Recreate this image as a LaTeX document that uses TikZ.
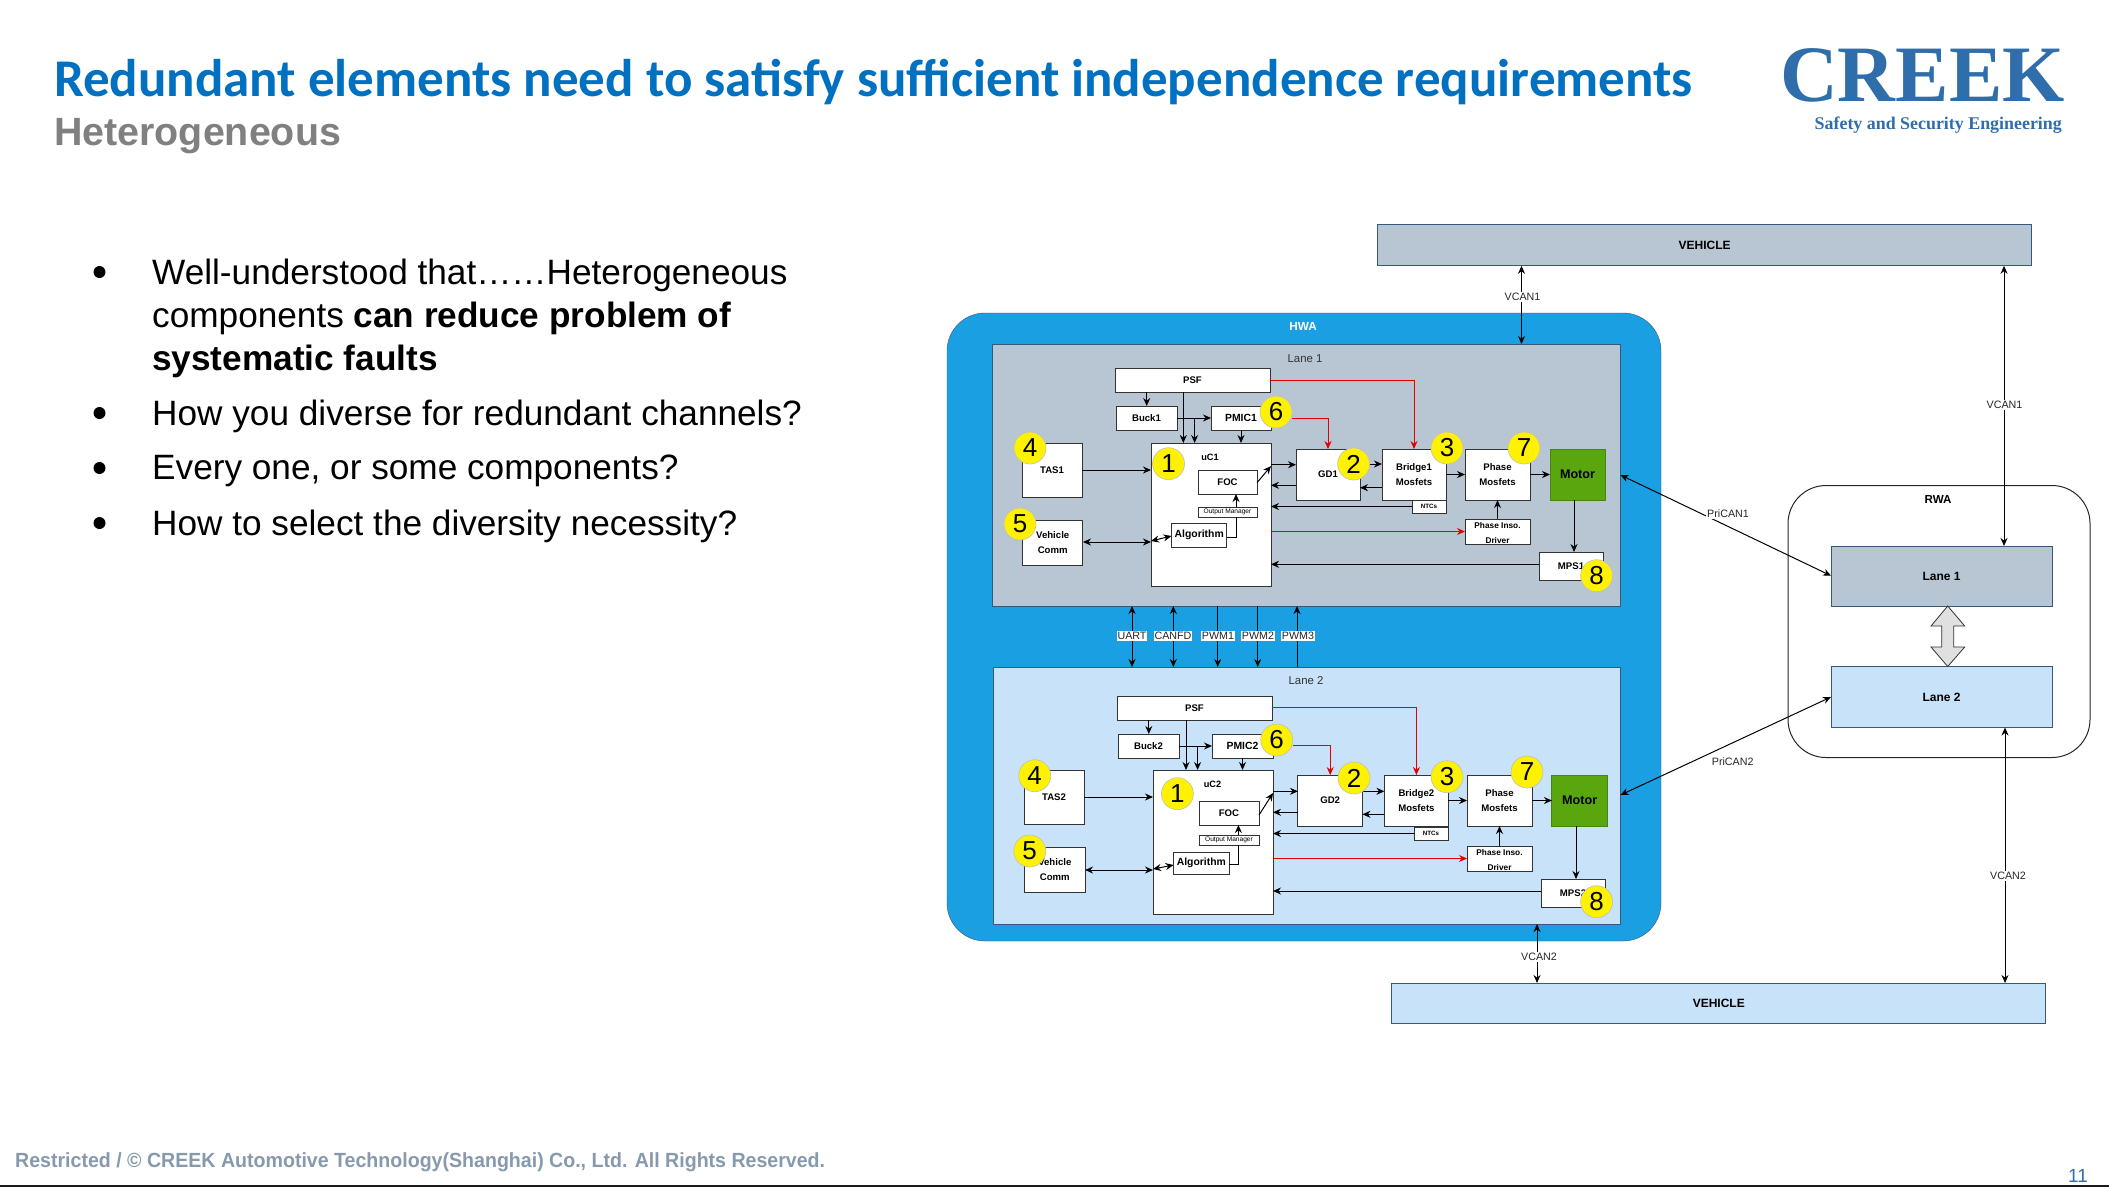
\documentclass[tikz,border=0pt]{standalone}
\usepackage{fontspec}
\setmainfont{Liberation Sans}
\newfontfamily\titlefont{Carlito}
\newfontfamily\logofont{Liberation Serif}
\newfontfamily\footfont[FakeStretch=0.955]{Liberation Sans}
\usepackage{xcolor}
\usetikzlibrary{arrows.meta,positioning,calc}
\definecolor{creekblue}{HTML}{0070C0}
\definecolor{logoblue}{HTML}{2F6EAB}
\definecolor{hwablue}{HTML}{1A9FE3}
\definecolor{lanegray}{HTML}{B8C6D3}
\definecolor{lanelight}{HTML}{C8E2FA}
\definecolor{motorgreen}{HTML}{5AA60F}
\definecolor{edgeblue}{HTML}{35597A}
\definecolor{footgray}{HTML}{8799AC}
\newcommand{\fsize}[1]{\fontsize{#1}{15}\selectfont}
\newcommand{\insotext}{\raisebox{-6pt}{\smash{\begin{tabular}{@{}c@{}}Phase Inso.\\Driver\end{tabular}}}}
\tikzset{
	arr/.style={draw=black, line width=1pt, -{Stealth[length=8pt,width=7pt]}},
	biarr/.style={draw=black, line width=1pt, {Stealth[length=8pt,width=7pt]}-{Stealth[length=8pt,width=7pt]}},
	redarr/.style={draw=red!90!black, line width=1pt, -{Stealth[length=8pt,width=7pt]}},
	plainline/.style={draw=black, line width=1pt},
	blockbox/.style={draw=black!80, line width=1pt, fill=white, outer sep=0pt, inner sep=0pt, align=center, font=\bfseries\fsize{9.6}},
	lanebox/.style={draw=edgeblue, line width=1pt, outer sep=0pt},
	numdot/.style={circle, fill=yellow, draw=black!25, line width=.6pt, minimum size=32pt, inner sep=0pt, font=\fsize{26}},
	canlabel/.style={fill=white, inner sep=1pt, font=\fsize{10.7}, text=black!85},
	thinlabel/.style={inner sep=0pt, font=\fsize{11.4}, text=black!80},
	bulletdot/.style={circle, fill=black, minimum size=12pt, inner sep=0pt},
	bullettext/.style={inner sep=0pt, anchor=west, align=left, font=\fontsize{35.2}{43}\selectfont}
}
\begin{document}
\begin{tikzpicture}[x=1pt,y=-1pt]
	\useasboundingbox (0,0) rectangle (2109,1187);
	\fill[white] (0,0) rectangle (2109,1187);

	\node[inner sep=0pt, anchor=base west, text=creekblue, font=\titlefont\bfseries\fontsize{53}{58}\selectfont] (titleA) at (54,96) {Redundant elements need to satisfy sufficient independence requirements};
	\node[inner sep=0pt, anchor=base west, text=black!50, font=\bfseries\fontsize{39.4}{44}\selectfont] (titleB) at (54,145) {Heterogeneous};
	\node[inner sep=0pt, anchor=base west, text=logoblue, font=\logofont\bfseries\fontsize{80}{80}\selectfont] (logoA) at (1780,101) {CREEK};
	\node[inner sep=0pt, anchor=base east, text=logoblue, font=\logofont\bfseries\fontsize{17.9}{20}\selectfont] (logoB) at (2062,129) {Safety and Security Engineering};

	\node[bulletdot] (dotA) at (99.5,272) {};
	\node[bulletdot] (dotB) at (99.5,413) {};
	\node[bulletdot] (dotC) at (99.5,468) {};
	\node[bulletdot] (dotD) at (99.5,523) {};
	\node[bullettext] (textA) at (152,318) {Well-understood that……Heterogeneous\\components \textbf{can reduce problem of}\\\textbf{systematic faults}};
	\node[bullettext] (textB) at (152,416) {How you diverse for redundant channels?};
	\node[bullettext] (textC) at (152,471) {Every one, or some components?};
	\node[bullettext] (textD) at (152,526) {How to select the diversity necessity?};

	\node[inner sep=0pt, anchor=base west, text=footgray, font=\footfont\bfseries\fontsize{20.5}{24}\selectfont] (footA) at (15,1167) {Restricted / © CREEK Automotive Technology(Shanghai) Co., Ltd. All Rights Reserved.};
	\node[inner sep=0pt, anchor=base east, text=logoblue, font=\fontsize{19}{21}\selectfont] (pageA) at (2088,1182.5) {11};
	\draw[black!90, line width=2pt] (0,1186) -- (2109,1186);

	% outer boxes
	\node[lanebox, fill=lanegray, minimum width=654pt, minimum height=41pt, font=\bfseries\fsize{12}] (vehicleA) at (1704.7,245.3) {VEHICLE};
	\node[lanebox, fill=lanelight, minimum width=654pt, minimum height=40pt, font=\bfseries\fsize{12}] (vehicleB) at (1718.8,1003) {VEHICLE};
	\node[draw=edgeblue, fill=hwablue, rounded corners=38pt, minimum width=714pt, minimum height=628pt, outer sep=0pt] (hwa) at (1304,627) {};
	\node[inner sep=0pt, text=white, font=\bfseries\fsize{11.8}] (hwaname) at (1303,326.5) {HWA};
	\node[draw=black!85, line width=1pt, fill=white, rounded corners=38pt, minimum width=302pt, minimum height=272pt, outer sep=0pt] (rwa) at (1939,621.5) {};
	\node[inner sep=0pt, font=\bfseries\fsize{11.6}] (rwaname) at (1938,499.5) {RWA};
	\node[lanebox, fill=lanegray, minimum width=221pt, minimum height=60pt, font=\bfseries\fsize{12}] (rwaA) at (1941.5,576) {Lane 1};
	\node[lanebox, fill=lanelight, minimum width=221pt, minimum height=61pt, font=\bfseries\fsize{12}] (rwaB) at (1941.5,697) {Lane 2};
	\draw[draw=black!80, fill=black!12, line width=.8pt] (rwaA.south -| 1947.7,0) -- (1964.7,626) -- (1953.7,626) -- (1953.7,647) -- (1964.7,647) -- (rwaB.north -| 1947.7,0) -- (1931,647) -- (1941.7,647) -- (1941.7,626) -- (1931,626) -- cycle;

	\node[lanebox, fill=lanegray, minimum width=628pt, minimum height=262pt] (laneA) at (1306.5,475) {};
	\node[lanebox, fill=lanelight, minimum width=627pt, minimum height=257pt] (laneB) at (1307,795.5) {};
	\node[thinlabel] (laneAname) at (1305,359) {Lane 1};
	\node[thinlabel] (laneBname) at (1306,681) {Lane 2};

	% lane 1
	\node[blockbox, minimum width=155pt, minimum height=24pt] (psfA) at (1192.5,380) {PSF};
	\node[blockbox, minimum width=61pt, minimum height=24pt] (buckA) at (1146.5,418) {Buck1};
	\node[blockbox, minimum width=60pt, minimum height=24pt, font=\bfseries\fsize{10.4}] (pmicA) at (1241,418) {PMIC1};
	\node[blockbox, minimum width=120pt, minimum height=143pt] (ucA) at (1211,514.5) {};
	\node[inner sep=0pt, font=\bfseries\fsize{9.2}] (ucAname) at (1210,457.5) {uC1};
	\node[blockbox, minimum width=60pt, minimum height=54pt] (tasA) at (1052,470) {TAS1};
	\node[blockbox, minimum width=60.5pt, minimum height=45pt] (commA) at (1052.7,542.5) {Vehicle\\Comm};
	\node[blockbox, minimum width=59pt, minimum height=24pt] (focA) at (1227.5,482) {FOC};
	\node[blockbox, minimum width=59pt, minimum height=10pt, font=\fsize{6.6}] (omA) at (1227.5,512) {Output Manager};
	\node[blockbox, minimum width=55.5pt, minimum height=24pt, font=\bfseries\fsize{10.4}] (algoA) at (1199.2,535) {Algorithm};
	\node[blockbox, minimum width=64pt, minimum height=51pt] (gdA) at (1328,474.5) {GD1};
	\node[blockbox, minimum width=64pt, minimum height=51pt] (bridgeA) at (1414,474.5) {Bridge1\\Mosfets};
	\node[blockbox, minimum width=34pt, minimum height=13pt, font=\bfseries\fsize{6.2}] (ntcA) at (1429,506.5) {NTCs};
	\node[blockbox, minimum width=65pt, minimum height=51pt] (phaseA) at (1497.5,474.5) {Phase\\Mosfets};
	\node[blockbox, minimum width=65pt, minimum height=25pt, font=\bfseries\fsize{8.3}] (insoA) at (1497.5,531.5) {\insotext};
	\node[blockbox, fill=motorgreen, draw=motorgreen!80!black, minimum width=55pt, minimum height=51pt, font=\bfseries\fsize{12.6}] (motorA) at (1577.5,474.5) {Motor};
	\node[blockbox, minimum width=64pt, minimum height=28pt] (mpsA) at (1571,566) {MPS1};

	\draw[arr] (psfA.south -| 1146.7,0) -- (buckA.north -| 1146.7,0);
	\draw[arr] (psfA.south -| 1183.3,0) -- (ucA.north -| 1183.3,0);
	\draw[arr] (buckA) -- (pmicA);
	\draw[arr] (1194.6,418) -- (ucA.north -| 1194.6,0);
	\draw[arr] (pmicA) -- (ucA.north -| pmicA);
	\draw[redarr] (psfA.east |- 0,380.6) -| (bridgeA.north);
	\draw[arr] (tasA) -- (ucA.west |- tasA);
	\draw[biarr] (commA.east |- 0,542) -- (ucA.west |- 0,542);
	\draw[biarr] (ucA.west |- 0,541) -- (algoA.west |- 0,536);
	\draw[plainline] (algoA.east |- 0,537) -| (omA.south -| 1236,0);
	\draw[arr] (omA.north -| 1236,0) -- (focA.south -| 1236,0);
	\draw[arr] (focA.east |- 0,482.7) -- (ucA.east |- 0,466);
	\draw[arr] (ucA.east |- 0,464.7) -- (gdA.west |- 0,464.7);
	\draw[arr] (gdA.west |- 0,485.3) -- (ucA.east |- 0,485.3);
	\draw[arr] (gdA.east |- 0,464) -- (bridgeA.west |- 0,464);
	\draw[arr] (bridgeA.west |- 0,487.7) -- (gdA.east |- 0,487.7);
	\draw[arr] (bridgeA) -- (phaseA);
	\draw[arr] (phaseA) -- (motorA);
	\draw[arr] (ntcA) -- (ucA.east |- ntcA);
	\draw[arr] (insoA) -- (phaseA);
	\draw[redarr] (ucA.east |- insoA) -- (insoA);
	\draw[arr] (motorA.south -| 1574,0) -- (mpsA.north -| 1574,0);
	\draw[arr] (mpsA.west |- 0,564.3) -- (ucA.east |- 0,564.3);

	% lane 2
	\node[blockbox, minimum width=155pt, minimum height=24pt] (psfB) at (1194.5,708) {PSF};
	\node[blockbox, minimum width=61pt, minimum height=24pt] (buckB) at (1148.5,746) {Buck2};
	\node[blockbox, minimum width=61pt, minimum height=24pt, font=\bfseries\fsize{10.4}] (pmicB) at (1242.5,746) {PMIC2};
	\node[blockbox, minimum width=120pt, minimum height=144pt] (ucB) at (1213,842) {};
	\node[inner sep=0pt, font=\bfseries\fsize{9.2}] (ucBname) at (1212.5,784.5) {uC2};
	\node[blockbox, minimum width=60pt, minimum height=54pt] (tasB) at (1054,797) {TAS2};
	\node[blockbox, minimum width=60.5pt, minimum height=45pt] (commB) at (1054.8,869.5) {Vehicle\\Comm};
	\node[blockbox, minimum width=60pt, minimum height=24pt] (focB) at (1229,813) {FOC};
	\node[blockbox, minimum width=60pt, minimum height=10pt, font=\fsize{6.6}] (omB) at (1229,840) {Output Manager};
	\node[blockbox, minimum width=55.5pt, minimum height=22pt, font=\bfseries\fsize{10.4}] (algoB) at (1201.3,863) {Algorithm};
	\node[blockbox, minimum width=64.5pt, minimum height=51pt] (gdB) at (1330.2,800.5) {GD2};
	\node[blockbox, minimum width=64pt, minimum height=51pt] (bridgeB) at (1416.4,800.5) {Bridge2\\Mosfets};
	\node[blockbox, minimum width=34pt, minimum height=13pt, font=\bfseries\fsize{6.2}] (ntcB) at (1431,833.5) {NTCs};
	\node[blockbox, minimum width=65pt, minimum height=51pt] (phaseB) at (1499.5,800.5) {Phase\\Mosfets};
	\node[blockbox, minimum width=65pt, minimum height=25pt, font=\bfseries\fsize{8.3}] (insoB) at (1499.5,858.5) {\insotext};
	\node[blockbox, fill=motorgreen, draw=motorgreen!80!black, minimum width=55.5pt, minimum height=51pt, font=\bfseries\fsize{12.6}] (motorB) at (1579.7,800.5) {Motor};
	\node[blockbox, minimum width=64pt, minimum height=28pt] (mpsB) at (1573,893) {MPS2};

	\draw[arr] (psfB.south -| 1148.8,0) -- (buckB.north -| 1148.8,0);
	\draw[arr] (psfB.south -| 1186,0) -- (ucB.north -| 1186,0);
	\draw[arr] (buckB) -- (pmicB);
	\draw[arr] (1197.6,746) -- (ucB.north -| 1197.6,0);
	\draw[arr] (pmicB) -- (ucB.north -| pmicB);
	\draw[redarr] (psfB.east |- 0,707.7) -| (bridgeB.north);
	\draw[arr] (tasB) -- (ucB.west |- tasB);
	\draw[biarr] (commB.east |- 0,870) -- (ucB.west |- 0,870);
	\draw[biarr] (ucB.west |- 0,869) -- (algoB.west |- 0,865);
	\draw[plainline] (algoB.east |- 0,864) -| (omB.south -| 1238.4,0);
	\draw[arr] (omB.north -| 1238.4,0) -- (focB.south -| 1238.4,0);
	\draw[arr] (focB.east |- 0,815) -- (ucB.east |- 0,793);
	\draw[arr] (ucB.east |- 0,791.3) -- (gdB.west |- 0,791.3);
	\draw[arr] (gdB.west |- 0,812.3) -- (ucB.east |- 0,812.3);
	\draw[arr] (gdB.east |- 0,791.3) -- (bridgeB.west |- 0,791.3);
	\draw[arr] (bridgeB.west |- 0,814.3) -- (gdB.east |- 0,814.3);
	\draw[arr] (bridgeB) -- (phaseB);
	\draw[arr] (phaseB) -- (motorB);
	\draw[arr] (ntcB) -- (ucB.east |- ntcB);
	\draw[arr] (insoB) -- (phaseB);
	\draw[redarr] (ucB.east |- insoB) -- (insoB);
	\draw[arr] (motorB.south -| 1576,0) -- (mpsB.north -| 1576,0);
	\draw[arr] (mpsB.west |- 0,891) -- (ucB.east |- 0,891);

	% lane links
	\draw[biarr] (laneA.south -| 1132,0) -- (laneB.north -| 1132,0);
	\draw[biarr] (laneA.south -| 1173.3,0) -- (laneB.north -| 1173.3,0);
	\draw[arr] (laneA.south -| 1217.7,0) -- (laneB.north -| 1217.7,0);
	\draw[arr] (laneA.south -| 1257.7,0) -- (laneB.north -| 1257.7,0);
	\draw[arr] (laneB.north -| 1297,0) -- (laneA.south -| 1297,0);
	\node[canlabel] (uart) at (1132,636) {UART};
	\node[canlabel] (canfd) at (1173,636) {CANFD};
	\node[canlabel] (pwmA) at (1218,636) {PWM1};
	\node[canlabel] (pwmB) at (1258,636) {PWM2};
	\node[canlabel] (pwmC) at (1298,636) {PWM3};

	% outer links
	\draw[biarr] (vehicleA.south -| 1521.5,0) -- (laneA.north -| 1521.5,0);
	\draw[biarr] (vehicleA.south -| 2004,0) -- (rwaA.north -| 2004,0);
	\draw[biarr] (laneA.east |- 0,475) -- (rwaA.west |- 0,575.7);
	\draw[biarr] (laneB.east |- 0,795) -- (rwaB.west |- 0,697);
	\draw[biarr] (rwaB.south -| 2005,0) -- (vehicleB.north -| 2005,0);
	\draw[biarr] (laneB.south -| 1537,0) -- (vehicleB.north -| 1537,0);
	\node[canlabel] (vcanA) at (1522.5,297) {VCAN1};
	\node[canlabel] (vcanB) at (2004.5,405) {VCAN1};
	\node[canlabel] (prican) at (1728,514) {PriCAN1};
	\node[inner sep=0pt, font=\fsize{10.7}, text=black!85] (pricanB) at (1732.7,761.7) {PriCAN2};
	\node[canlabel] (vcanC) at (2008,876) {VCAN2};
	\node[canlabel] (vcanD) at (1539,957) {VCAN2};

	% numbered dots
	\node[numdot] (oneA) at (1168.5,463.7) {1};
	\node[numdot] (twoA) at (1353.7,464) {2};
	\node[numdot] (threeA) at (1447,448) {3};
	\node[numdot] (fourA) at (1030,448) {4};
	\node[numdot] (fiveA) at (1020,524) {5};
	\node[numdot] (sixA) at (1276,412) {6};
	\node[numdot] (sevenA) at (1524,448) {7};
	\node[numdot] (eightA) at (1596.6,575.7) {8};
	\node[numdot] (oneB) at (1177.4,793.7) {1};
	\node[numdot] (twoB) at (1354,778) {2};
	\node[numdot] (threeB) at (1447,776.7) {3};
	\node[numdot] (fourB) at (1034.7,775.7) {4};
	\node[numdot] (fiveB) at (1029.7,851) {5};
	\node[numdot] (sixB) at (1276.7,740) {6};
	\node[numdot] (sevenB) at (1527,772) {7};
	\node[numdot] (eightB) at (1596.6,901.7) {8};
	\draw[redarr] (sixA.east |- 0,418) -| (gdA.north);
	\draw[redarr] (sixB.east |- 0,745.7) -| (gdB.north);
\end{tikzpicture}
\end{document}
